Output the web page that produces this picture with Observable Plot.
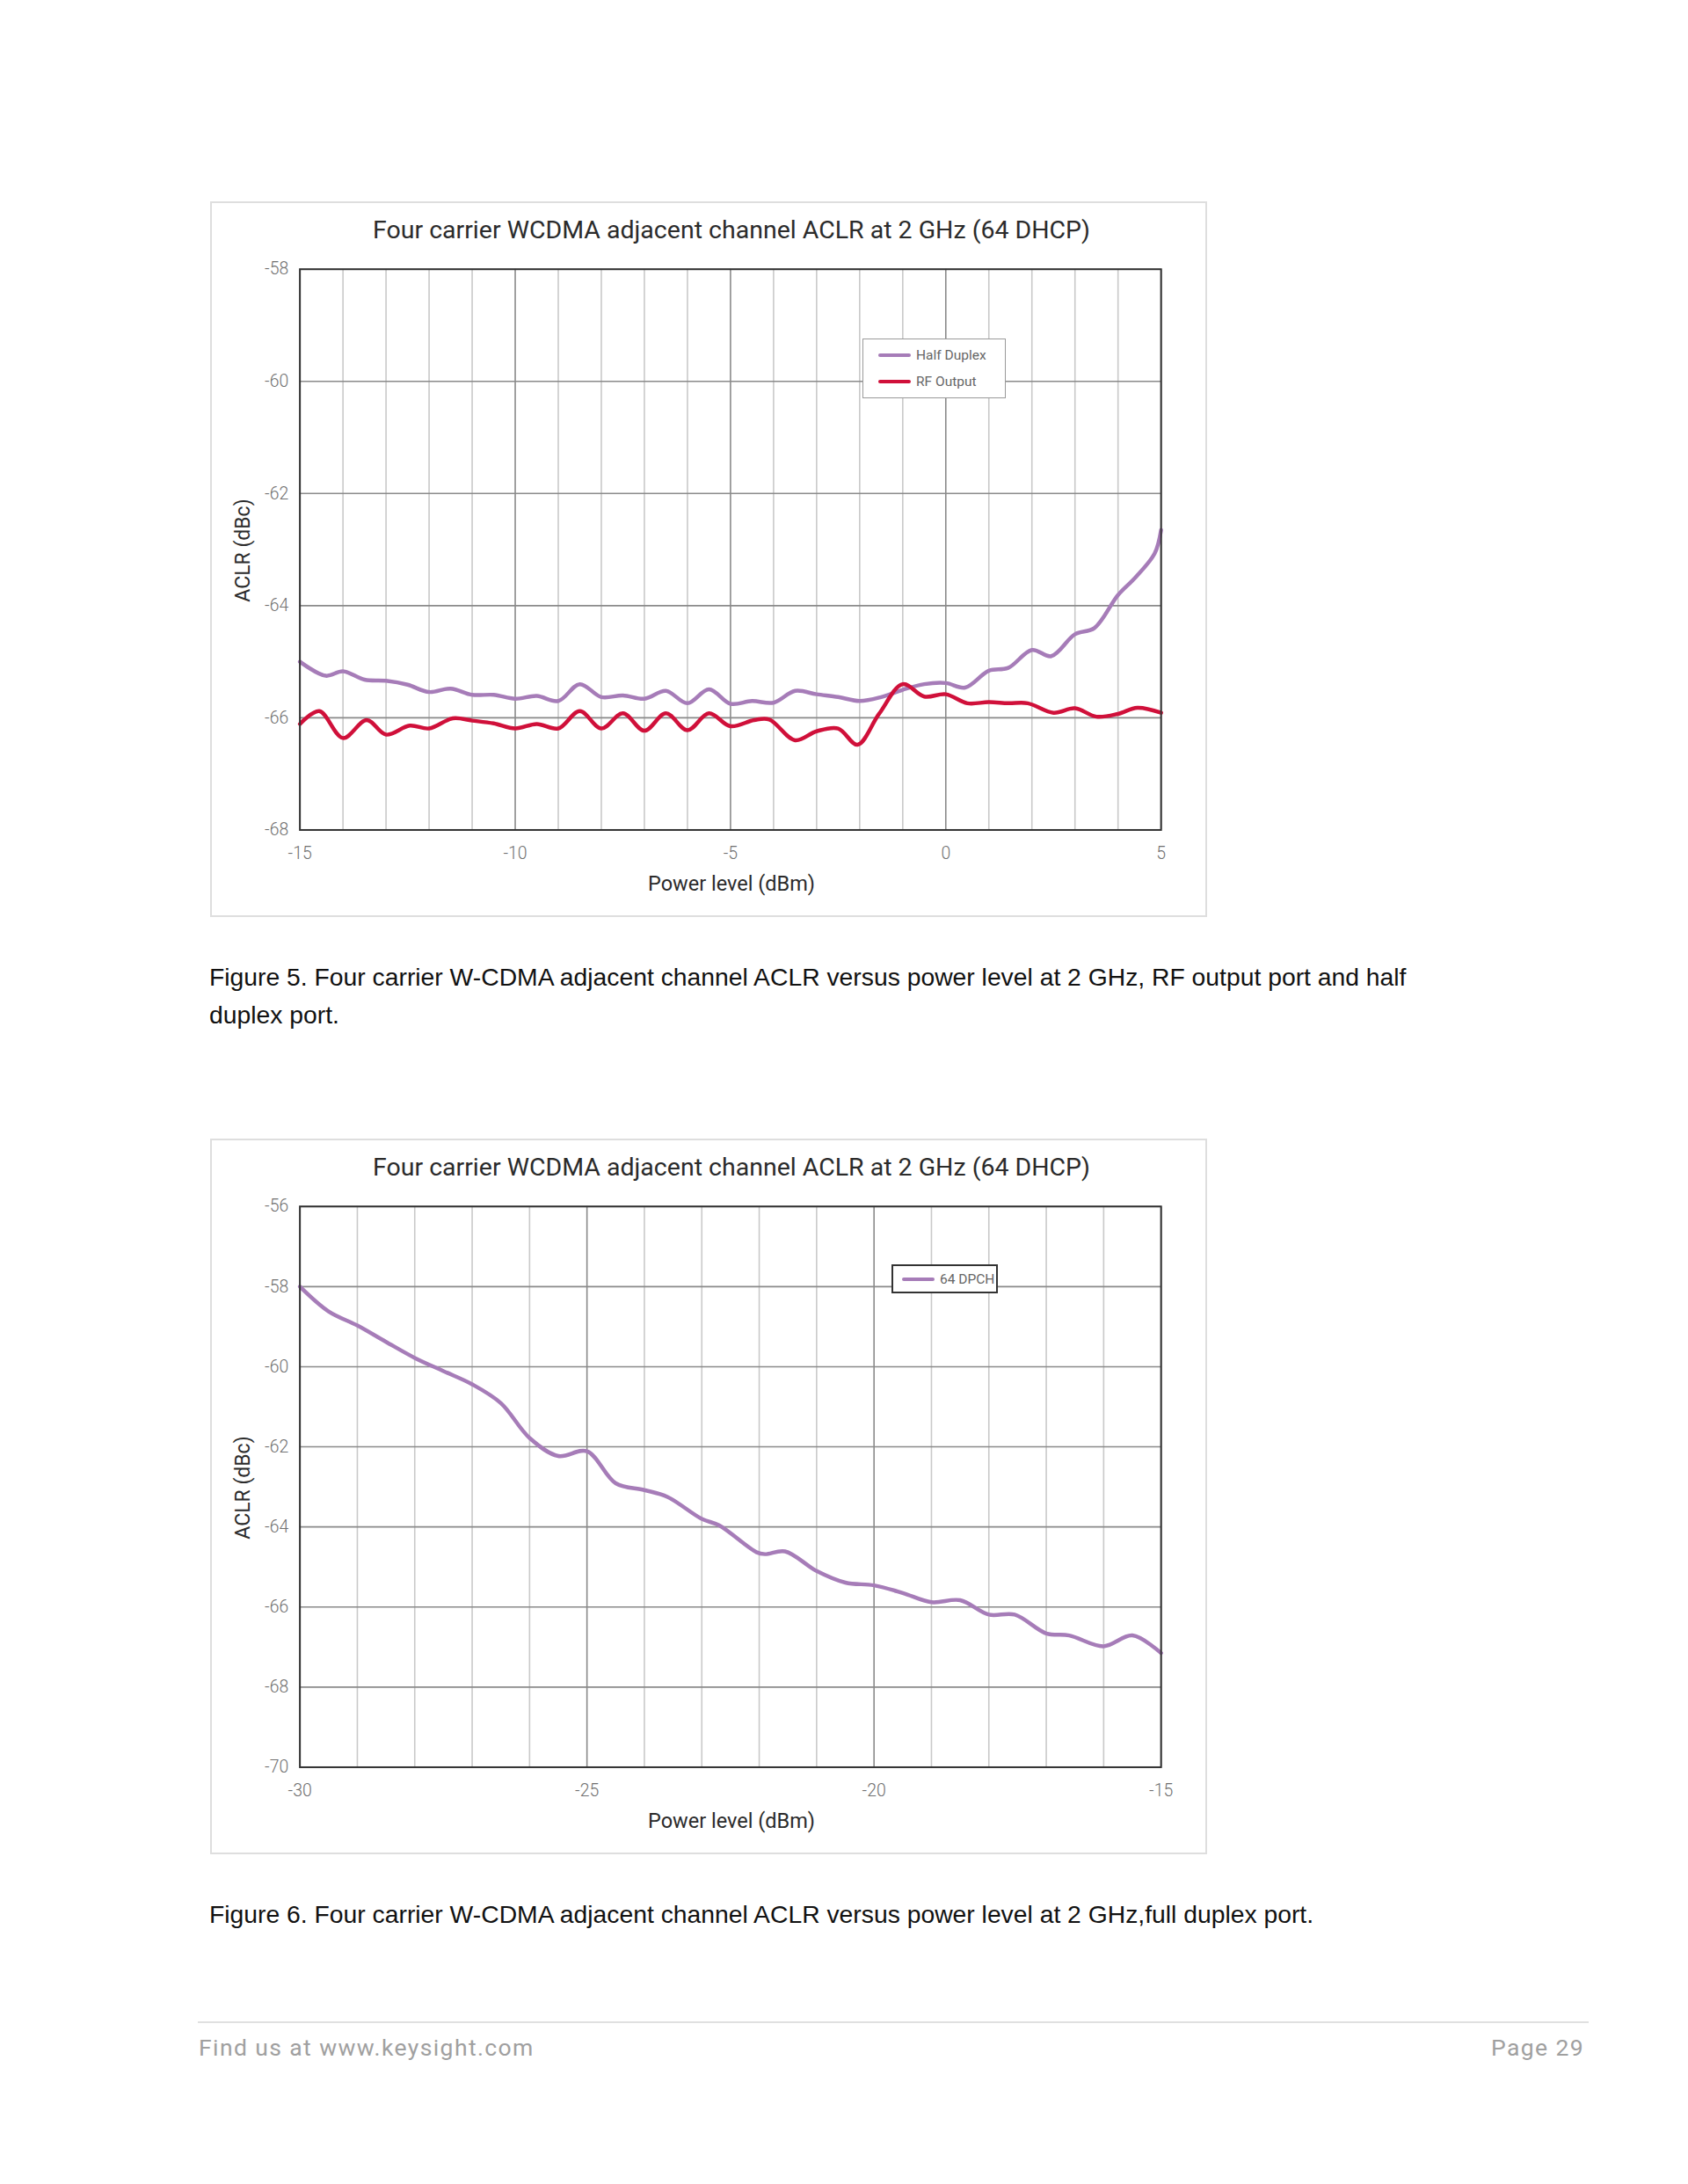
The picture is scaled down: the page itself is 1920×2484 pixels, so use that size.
<!DOCTYPE html>
<html>
<head>
<meta charset="utf-8">
<script src="https://cdn.jsdelivr.net/npm/d3@7"></script>
<script src="https://cdn.jsdelivr.net/npm/@observablehq/plot@0.6"></script>
<style>
  html, body { margin: 0; padding: 0; background: #fff; }
  #page { position: relative; width: 1920px; height: 2484px; background: #fff; }
  .box { position: absolute; left: 239px; width: 1134px; height: 814px; border: 2px solid #dedede; box-sizing: border-box; }
  .box svg { position: absolute; left: -2px; top: -2px; }
  .box svg text { font-size: 19.5px; font-weight: 300; fill: #707070; }
  .title { position: absolute; left: 90px; width: 1002px; text-align: center; font-family: Roboto, sans-serif; font-size: 28.5px; color: #2b2b2b; top: 14px; white-space: nowrap; }
  .xlabel { position: absolute; left: 90px; width: 1002px; text-align: center; font-family: Roboto, sans-serif; font-size: 23.5px; color: #2b2b2b; top: 760px; white-space: nowrap; }
  .ylabel { position: absolute; left: 35px; top: 395px; transform: translate(-50%, -50%) rotate(-90deg); font-family: Roboto, sans-serif; font-size: 23px; color: #2b2b2b; white-space: nowrap; }
  .legend { position: absolute; background: #fff; box-sizing: border-box; font-family: Roboto, sans-serif; font-size: 15.5px; color: #666; }
  .legend .row { position: absolute; display: flex; align-items: center; height: 20px; white-space: nowrap; }
  .legend .sw { display: inline-block; width: 37px; height: 4px; border-radius: 2px; margin-right: 6px; }
  .caption { position: absolute; left: 238px; font-family: "Liberation Sans", Arial, sans-serif; font-size: 28.3px; line-height: 43px; color: #111; white-space: nowrap; }
  .footer-rule { position: absolute; left: 225px; top: 2299px; width: 1582px; height: 2px; background: #e0e0e0; }
  .footer { position: absolute; top: 2313px; font-family: Roboto, sans-serif; font-size: 26.5px; color: #a0a0a0; letter-spacing: 1.4px; white-space: nowrap; }
</style>
</head>
<body>
<div id="page"></div>
<script>
// ---------- Figure 5 data ----------
const fig5XTicks = [-15, -10, -5, 0, 5];
const fig5YTicks = [-68, -66, -64, -62, -60, -58];
const fig5MinorX = [-14, -13, -12, -11, -9, -8, -7, -6, -4, -3, -2, -1, 1, 2, 3, 4];
const halfDuplexX = [-15, -14.4, -14, -13.5, -13, -12.5, -12, -11.5, -11, -10.5, -10, -9.5, -9, -8.5, -8, -7.5, -7, -6.5, -6, -5.5, -5, -4.5, -4, -3.5, -3, -2.5, -2, -1.5, -1, -0.5, 0, 0.45, 1, 1.45, 2, 2.45, 3, 3.45, 4, 4.4, 4.85, 5];
const halfDuplexY = [-65.00, -65.25, -65.17, -65.32, -65.34, -65.41, -65.54, -65.48, -65.59, -65.59, -65.66, -65.61, -65.70, -65.40, -65.63, -65.60, -65.66, -65.52, -65.74, -65.49, -65.75, -65.70, -65.73, -65.52, -65.58, -65.63, -65.70, -65.63, -65.50, -65.40, -65.38, -65.46, -65.16, -65.11, -64.79, -64.90, -64.51, -64.40, -63.81, -63.50, -63.07, -62.65];
const rfOutputX = [-15, -14.55, -14, -13.45, -13, -12.45, -12, -11.45, -11, -10.5, -10, -9.5, -9, -8.5, -8, -7.5, -7, -6.5, -6, -5.5, -5, -4.45, -4.1, -3.5, -3, -2.5, -2.05, -1.55, -1, -0.5, 0, 0.5, 1, 1.45, 1.9, 2.5, 3, 3.5, 4, 4.45, 5];
const rfOutputY = [-66.11, -65.88, -66.36, -66.04, -66.30, -66.14, -66.19, -66.01, -66.05, -66.10, -66.19, -66.11, -66.19, -65.88, -66.19, -65.92, -66.23, -65.92, -66.22, -65.92, -66.15, -66.04, -66.03, -66.40, -66.24, -66.19, -66.48, -65.93, -65.40, -65.62, -65.58, -65.74, -65.72, -65.74, -65.74, -65.91, -65.83, -65.98, -65.93, -65.82, -65.91];

// ---------- Figure 6 data ----------
const fig6XTicks = [-30, -25, -20, -15];
const fig6YTicks = [-70, -68, -66, -64, -62, -60, -58, -56];
const fig6MinorX = [-29, -28, -27, -26, -24, -23, -22, -21, -19, -18, -17, -16];
const dpchX = [-30, -29.5, -29, -28.5, -28, -27.5, -27, -26.5, -26, -25.5, -25, -24.5, -24, -23.6, -23, -22.7, -22.05, -21.9, -21.55, -21, -20.5, -20, -19.5, -19, -18.5, -18, -17.55, -17, -16.6, -16, -15.5, -15];
const dpchY = [-58.0, -58.62, -58.97, -59.38, -59.78, -60.11, -60.44, -60.91, -61.78, -62.23, -62.11, -62.91, -63.08, -63.25, -63.8, -63.96, -64.63, -64.68, -64.61, -65.10, -65.39, -65.46, -65.65, -65.88, -65.83, -66.19, -66.19, -66.66, -66.71, -66.98, -66.71, -67.15];

const seriesNames = ["Half Duplex", "RF Output"];
const seriesColors = ["#a67cb8", "#d0103a"];
const dpchName = "64 DPCH";

const titleText = "Four carrier WCDMA adjacent channel ACLR at 2 GHz (64 DHCP)";
const xLabelText = "Power level (dBm)";
const yLabelText = "ACLR (dBc)";

const page = document.getElementById("page");

function makeChart({top, xDomain, yDomain, xTicks, yTicks, minorX, series, legend}) {
  const box = document.createElement("div");
  box.className = "box";
  box.style.top = top + "px";
  page.appendChild(box);

  const rows = [];
  series.forEach(s => s.x.forEach((x, i) => rows.push({series: s.name, x, y: s.y[i]})));

  const chart = Plot.plot({
    width: 1134,
    height: 814,
    marginLeft: 102,
    marginRight: 49,
    marginTop: 77,
    marginBottom: 97,
    style: {fontFamily: "Roboto, sans-serif", fontSize: "19.5px", color: "#707070", background: "transparent", overflow: "visible"},
    x: {domain: xDomain, ticks: xTicks, tickSize: 0, tickPadding: 19, label: null, tickFormat: d => `${d}`},
    y: {domain: yDomain, ticks: yTicks, tickSize: 0, tickPadding: 13, label: null, tickFormat: d => `${d}`},
    color: {domain: series.map(s => s.name), range: series.map(s => s.color)},
    marks: [
      Plot.ruleX(minorX, {stroke: "#c9c9c9", strokeWidth: 1.6}),
      Plot.ruleX(xTicks, {stroke: "#8a8a8a", strokeWidth: 1.6}),
      Plot.ruleY(yTicks, {stroke: "#8a8a8a", strokeWidth: 1.6}),
      Plot.line(rows, {x: "x", y: "y", z: "series", stroke: "series", strokeWidth: 4.5, curve: "catmull-rom", strokeLinejoin: "round", strokeLinecap: "round"}),
      Plot.frame({stroke: "#333", strokeWidth: 2})
    ]
  });
  box.appendChild(chart);

  const t = document.createElement("div");
  t.className = "title"; t.textContent = titleText; box.appendChild(t);
  const xl = document.createElement("div");
  xl.className = "xlabel"; xl.textContent = xLabelText; box.appendChild(xl);
  const yl = document.createElement("div");
  yl.className = "ylabel"; yl.textContent = yLabelText; box.appendChild(yl);

  const lg = document.createElement("div");
  lg.className = "legend";
  Object.assign(lg.style, {left: legend.left + "px", top: legend.top + "px", width: legend.width + "px", height: legend.height + "px", border: legend.border});
  series.forEach((s, i) => {
    const r = document.createElement("div");
    r.className = "row";
    r.style.left = legend.padLeft + "px";
    r.style.top = (legend.firstRow + i * legend.rowGap - 10) + "px";
    const sw = document.createElement("span");
    sw.className = "sw"; sw.style.background = s.color;
    const tx = document.createElement("span");
    tx.textContent = s.name;
    r.appendChild(sw); r.appendChild(tx);
    lg.appendChild(r);
  });
  box.appendChild(lg);
}

makeChart({
  top: 229,
  xDomain: [-15, 5], yDomain: [-68, -58],
  xTicks: fig5XTicks, yTicks: fig5YTicks, minorX: fig5MinorX,
  series: [
    {name: seriesNames[0], color: seriesColors[0], x: halfDuplexX, y: halfDuplexY},
    {name: seriesNames[1], color: seriesColors[1], x: rfOutputX, y: rfOutputY}
  ],
  legend: {left: 740, top: 154, width: 163, height: 68, border: "1.5px solid #9a9a9a", padLeft: 17, firstRow: 18, rowGap: 30}
});

makeChart({
  top: 1295,
  xDomain: [-30, -15], yDomain: [-70, -56],
  xTicks: fig6XTicks, yTicks: fig6YTicks, minorX: fig6MinorX,
  series: [
    {name: dpchName, color: seriesColors[0], x: dpchX, y: dpchY}
  ],
  legend: {left: 773, top: 141, width: 121, height: 33, border: "2px solid #333", padLeft: 10, firstRow: 15, rowGap: 0}
});

const cap1 = document.createElement("div");
cap1.className = "caption"; cap1.style.top = "1090px";
cap1.innerHTML = "Figure 5. Four carrier W-CDMA adjacent channel ACLR versus power level at 2 GHz, RF output port and half<br>duplex port.";
page.appendChild(cap1);

const cap2 = document.createElement("div");
cap2.className = "caption"; cap2.style.top = "2156px";
cap2.textContent = "Figure 6. Four carrier W-CDMA adjacent channel ACLR versus power level at 2 GHz,full duplex port.";
page.appendChild(cap2);

const fr = document.createElement("div"); fr.className = "footer-rule"; page.appendChild(fr);
const f1 = document.createElement("div"); f1.className = "footer"; f1.style.left = "226px"; f1.textContent = "Find us at www.keysight.com"; page.appendChild(f1);
const f2 = document.createElement("div"); f2.className = "footer"; f2.style.right = "118px"; f2.textContent = "Page 29"; page.appendChild(f2);
</script>
</body>
</html>
